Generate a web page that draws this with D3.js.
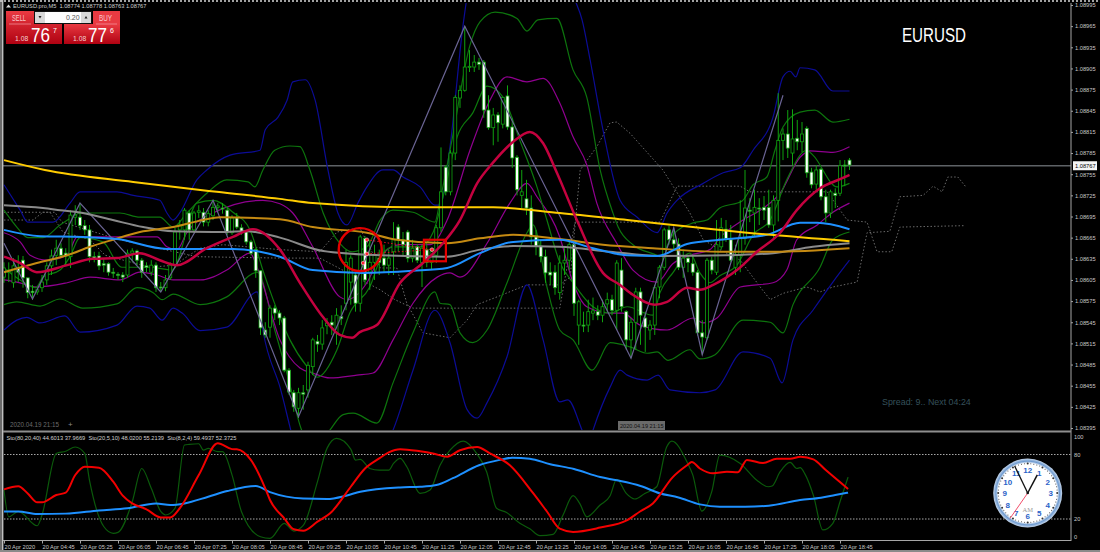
<!DOCTYPE html>
<html>
<head>
<meta charset="utf-8">
<title>EURUSD M5</title>
<script src="https://cdn.jsdelivr.net/npm/d3@7/dist/d3.min.js"></script>
<style>
  html, body { margin: 0; padding: 0; background: #000; overflow: hidden; }
  text { font-family: "Liberation Sans", Arial, sans-serif; }
</style>
</head>
<body>
<script>
// prices are kept in points: 8767 means 1.08767
var opens = [8609,8616,8601,8622,8633,8608,8589,8588,8594,8605,8625,8640,8650,8643,8638,8694,8694,8682,8676,8638,
  8639,8628,8628,8616,8613,8612,8612,8643,8646,8633,8625,8616,8626,8595,8594,8608,8626,8676,8676,8700,
  8676,8701,8701,8687,8696,8708,8707,8704,8672,8693,8679,8673,8659,8648,8618,8534,8538,8565,8558,8551,
  8477,8445,8423,8445,8449,8482,8518,8514,8540,8545,8530,8553,8572,8602,8612,8572,8664,8616,8630,8636,
  8636,8626,8645,8680,8662,8673,8636,8652,8630,8648,8630,8640,8679,8765,8730,8785,8863,8874,8907,8907,
  8914,8914,8846,8821,8839,8826,8866,8822,8779,8725,8720,8707,8666,8653,8638,8616,8616,8587,8629,8633,
  8655,8541,8541,8541,8558,8560,8555,8571,8577,8562,8619,8560,8520,8545,8588,8551,8534,8541,8595,8623,
  8676,8662,8656,8623,8636,8628,8616,8530,8523,8633,8616,8652,8677,8662,8623,8640,8664,8704,8700,8707,
  8708,8708,8683,8718,8803,8812,8785,8806,8801,8820,8758,8741,8762,8723,8700,8728,8728,8768,8775];
var closes = [8622,8619,8625,8616,8608,8587,8587,8591,8602,8625,8639,8650,8640,8639,8697,8697,8682,8676,8638,8636,
  8625,8626,8616,8615,8612,8609,8643,8646,8633,8616,8623,8626,8594,8594,8605,8626,8673,8683,8704,8676,
  8700,8703,8687,8699,8708,8710,8707,8673,8693,8680,8673,8659,8643,8618,8537,8527,8565,8558,8551,8477,
  8446,8425,8445,8443,8484,8520,8514,8537,8544,8541,8555,8550,8630,8636,8572,8666,8605,8630,8640,8630,
  8626,8636,8662,8662,8655,8636,8650,8633,8650,8630,8645,8679,8730,8730,8785,8864,8874,8907,8908,8914,
  8911,8846,8821,8839,8828,8864,8822,8778,8733,8730,8707,8666,8653,8638,8615,8612,8594,8629,8633,8655,
  8572,8574,8540,8560,8561,8555,8567,8577,8562,8629,8567,8520,8545,8588,8555,8538,8541,8594,8623,8676,
  8662,8656,8623,8636,8630,8616,8530,8524,8633,8619,8655,8679,8664,8633,8640,8664,8707,8703,8708,8706,
  8704,8683,8718,8803,8812,8792,8805,8801,8812,8757,8740,8761,8723,8700,8730,8725,8767,8768,8768];
var highs = [8630,8630,8636,8640,8639,8608,8598,8594,8612,8630,8648,8662,8657,8650,8704,8711,8714,8690,8683,8645,
  8645,8636,8630,8622,8616,8616,8648,8650,8648,8636,8630,8633,8630,8602,8612,8630,8679,8690,8707,8704,
  8703,8711,8707,8704,8716,8714,8714,8708,8697,8700,8684,8676,8662,8650,8619,8545,8569,8569,8562,8554,
  8480,8449,8452,8456,8489,8523,8527,8548,8551,8555,8565,8569,8648,8640,8616,8669,8667,8662,8655,8648,
  8655,8648,8687,8684,8673,8676,8662,8656,8655,8655,8650,8683,8793,8768,8789,8867,8881,8965,8931,8924,
  8920,8917,8867,8849,8843,8864,8881,8835,8782,8761,8747,8725,8676,8662,8648,8630,8626,8640,8650,8662,
  8662,8577,8560,8577,8580,8569,8577,8587,8584,8633,8636,8562,8551,8594,8594,8560,8548,8598,8626,8679,
  8682,8679,8664,8648,8640,8640,8619,8548,8636,8638,8690,8693,8690,8683,8655,8718,8761,8721,8733,8721,
  8724,8733,8725,8870,8820,8846,8847,8832,8829,8823,8764,8768,8764,8733,8733,8735,8775,8775,8778];
var lows = [8601,8602,8594,8602,8594,8579,8577,8584,8588,8598,8612,8626,8636,8626,8622,8683,8676,8669,8630,8630,
  8619,8616,8611,8608,8605,8602,8608,8630,8626,8608,8616,8611,8588,8588,8589,8605,8622,8662,8662,8662,
  8672,8693,8681,8681,8690,8701,8699,8669,8669,8677,8669,8655,8640,8608,8527,8523,8523,8548,8541,8474,
  8442,8418,8409,8421,8438,8470,8503,8506,8528,8527,8513,8541,8562,8570,8560,8560,8598,8591,8605,8612,
  8616,8612,8612,8645,8640,8630,8630,8629,8595,8623,8619,8629,8673,8725,8725,8775,8849,8872,8900,8900,
  8903,8835,8818,8796,8801,8820,8818,8764,8725,8707,8697,8655,8640,8630,8601,8598,8584,8577,8612,8619,
  8554,8513,8531,8531,8548,8548,8545,8560,8555,8534,8560,8506,8494,8506,8513,8503,8520,8527,8579,8619,
  8655,8648,8619,8608,8616,8611,8526,8499,8520,8613,8612,8648,8659,8630,8612,8616,8655,8687,8667,8683,
  8690,8679,8662,8688,8775,8778,8768,8789,8786,8750,8735,8733,8718,8687,8693,8707,8724,8738,8761];

// indicator lines as [bar, points]
var navyUpper = [[0,8740],[3.4,8704],[5,8687],[10.3,8687],[13.9,8714],[16,8730],[23.8,8730],[27.2,8725],[32.8,8718],[34.3,8700],[35.6,8690],[37,8700],[40.6,8747],[42.7,8761],[47.6,8782],[53.9,8789],[55,8818],[57.7,8836],[59.6,8860],[60.8,8886],[63.4,8889],[65.5,8860],[68.2,8761],[70.3,8700],[72.2,8683],[74.5,8714],[76.4,8737],[79.8,8761],[81.9,8761],[84,8751],[87.6,8737],[90.7,8711],[91.8,8711],[93.9,8794],[96.6,8964],[98.1,9030],[102.3,9087],[115,9087],[120.2,9002],[121.7,8974],[123.4,8917],[126.1,8818],[129.7,8718],[133.3,8694],[137.5,8672],[139.6,8700],[141.7,8718],[147.2,8742],[151.4,8757],[155,8764],[157.7,8789],[161.9,8836],[164,8893],[165.5,8901],[166.7,8893],[167.6,8906],[170.7,8903],[174.5,8873],[178,8873]];
var navyLower = [[0,8534],[2.7,8548],[4.8,8552],[7.6,8544],[12.8,8554],[16,8531],[23.8,8541],[28,8568],[30.7,8565],[33.3,8548],[35.6,8565],[37.5,8558],[41.3,8533],[46.9,8538],[53.3,8588],[54.5,8534],[58.1,8453],[62.3,8350],[70.7,8293],[77,8336],[81.9,8392],[86.1,8477],[90.7,8562],[93.9,8516],[97.5,8421],[99.6,8409],[101.7,8431],[105.9,8496],[110.1,8598],[113.5,8520],[117,8432],[118.7,8435],[121.7,8392],[123,8371],[124,8392],[127.6,8453],[129.7,8477],[131.2,8470],[135.4,8463],[137.7,8470],[140.2,8449],[146.5,8445],[149.7,8449],[155.6,8503],[161.3,8494],[163.8,8459],[166.1,8520],[170.3,8562],[174.5,8602],[178,8633]];
var greenUpper = [[0,8704],[2.7,8680],[5,8665],[8.2,8665],[11.8,8683],[14.3,8694],[16,8700],[24.4,8700],[28.6,8694],[32.8,8694],[35.6,8680],[38.5,8700],[42.7,8728],[46.9,8747],[51.4,8744],[52.8,8737],[54.5,8761],[57,8789],[60.2,8795],[62.3,8794],[64.4,8761],[67.2,8700],[70.7,8657],[73.3,8645],[76.4,8652],[79.2,8690],[81.9,8704],[86.1,8701],[90.7,8687],[91.8,8718],[94.3,8803],[98.1,8938],[100.2,8971],[103.4,8985],[108,8976],[110.1,8958],[112.4,8974],[116.4,8976],[119.8,8903],[122.7,8864],[125.5,8761],[128.2,8700],[129.3,8680],[132.4,8655],[137.5,8640],[138.1,8638],[140.8,8669],[145.1,8686],[148,8690],[150.7,8707],[155.4,8717],[157.7,8740],[160.6,8751],[162.3,8789],[164,8822],[167.6,8843],[170.7,8846],[174.5,8829],[178,8833]];
var greenLower = [[0,8570],[2.7,8574],[7.6,8568],[11.8,8578],[16.6,8565],[23.8,8571],[28,8594],[31.4,8587],[33.3,8577],[35.6,8585],[41.3,8570],[46.9,8581],[53.3,8616],[57,8534],[60.2,8456],[62.3,8399],[65.5,8364],[68.6,8392],[71.4,8414],[73.5,8416],[78.5,8402],[81.9,8459],[86.1,8530],[90.7,8588],[91.8,8572],[93.9,8570],[96,8530],[98.7,8516],[101.7,8534],[105.9,8601],[110.1,8672],[111.4,8683],[114.3,8595],[117,8534],[119.8,8520],[123.8,8477],[127.6,8516],[131.8,8510],[135.4,8501],[137.5,8503],[139.8,8491],[144.4,8506],[146.5,8493],[149.7,8499],[155.6,8548],[161.3,8545],[164,8530],[166.1,8570],[171.8,8623],[174.5,8662],[178,8673]];
var magentaUpper = [[0,8672],[3.4,8659],[5.5,8640],[9.1,8633],[13.3,8640],[15.4,8666],[22.3,8666],[32.2,8666],[34.3,8652],[36.4,8648],[38.5,8672],[44,8700],[54.5,8718],[58.1,8713],[60.8,8700],[65,8652],[70.7,8581],[72.2,8577],[76.4,8601],[79.2,8638],[83.4,8655],[89.7,8655],[93.3,8690],[98.1,8789],[102.3,8860],[105.9,8893],[110.1,8886],[113.5,8891],[117,8856],[119.8,8808],[122.7,8768],[124.8,8714],[129,8657],[132.4,8619],[137.5,8602],[140.8,8628],[144.4,8640],[148.6,8648],[150.7,8665],[155.6,8690],[159.2,8704],[163.4,8728],[167.6,8779],[169.7,8788],[174.5,8786],[178,8794]];
var magentaLower = [[0,8605],[2.7,8602],[6.9,8595],[13.3,8601],[18.1,8609],[24.4,8605],[28.6,8616],[32.2,8612],[35.6,8605],[41.3,8605],[46.9,8619],[51.8,8643],[53.5,8619],[58.1,8520],[62.3,8480],[65,8473],[68.6,8466],[74.3,8470],[77.7,8473],[81.9,8520],[86.1,8572],[91.2,8609],[93.9,8615],[96,8609],[101.7,8657],[106.5,8714],[110.1,8742],[112.2,8723],[117,8666],[119.8,8601],[122.7,8567],[127.6,8558],[130.3,8558],[133.9,8541],[139.6,8534],[145.1,8551],[147.2,8544],[150.1,8551],[155,8595],[161.9,8601],[164.8,8619],[166.9,8662],[171.2,8683],[174.5,8701],[178,8714]];
var fastGreen = [[0,8622],[3.4,8605],[6.7,8594],[8.2,8609],[11.8,8619],[13.9,8638],[16,8665],[20.8,8659],[24.8,8623],[30.7,8623],[35.4,8619],[40.6,8714],[44,8718],[48.2,8701],[51.8,8676],[54.5,8619],[58.1,8552],[60.2,8520],[63.8,8482],[65.9,8467],[70.1,8506],[72.8,8558],[77,8595],[79.8,8643],[81.9,8652],[87.6,8652],[90.3,8672],[92.8,8733],[95.4,8808],[98.7,8842],[101.7,8880],[105.1,8864],[108.6,8803],[112.2,8737],[114.3,8690],[117,8630],[119.8,8601],[124,8567],[127.6,8558],[131.2,8567],[136.6,8555],[138.1,8587],[140.8,8615],[144.4,8643],[146.5,8615],[148.6,8601],[150.7,8611],[154.3,8626],[157.7,8669],[161.3,8690],[164.8,8747],[169,8789],[170.3,8782],[175.4,8737],[178,8742]];
var crimsonMa = [[0,8638],[3.4,8629],[6.9,8616],[13.3,8626],[18.7,8635],[23.8,8636],[28.6,8643],[32.8,8633],[36.4,8626],[42.7,8650],[48.2,8666],[52.4,8677],[58.1,8648],[62.3,8601],[67.2,8552],[70.7,8527],[73.3,8523],[74.9,8531],[78.5,8541],[83.4,8601],[88.2,8629],[92.4,8657],[96,8690],[99.6,8742],[102.9,8771],[107.2,8801],[110.7,8815],[113.5,8799],[116.4,8757],[120.6,8690],[126.1,8615],[129.7,8598],[132.4,8584],[137,8570],[139.6,8574],[143.8,8594],[146.5,8591],[149.3,8598],[154.3,8619],[158.5,8645],[163.4,8672],[166.9,8704],[171.8,8735],[176,8748],[178,8754]];
var yellowMa = [[0,8775],[8.6,8761],[27.2,8744],[44.8,8730],[58.1,8720],[65,8714],[86.1,8708],[103,8708],[117,8700],[131.2,8690],[145,8680],[156.4,8672],[178,8660]];
var orangeMa = [[0,8616],[6.9,8629],[13.3,8640],[18.1,8652],[22.9,8662],[28.6,8673],[35.6,8680],[41.9,8690],[45.5,8694],[58.1,8691],[65,8680],[76.4,8672],[82.7,8662],[93.3,8657],[100.2,8664],[107.2,8669],[117,8663],[126.1,8655],[136.6,8650],[150.7,8645],[161.9,8645],[178,8650]];
var grayMa = [[0,8711],[8.2,8707],[11.8,8704],[16.6,8700],[22.9,8690],[29.3,8680],[35.6,8674],[44,8673],[51.2,8674],[58.1,8665],[67.2,8646],[79.2,8640],[93.3,8638],[100.2,8648],[107.2,8653],[117,8652],[127.6,8645],[138.1,8639],[152.2,8640],[161.9,8643],[170.3,8652],[178,8657]];
var blueMa = [[0,8676],[7.6,8667],[16.6,8666],[23.8,8663],[34.3,8649],[48.2,8649],[53.9,8645],[58.1,8638],[65,8619],[75.6,8615],[86.1,8618],[93.3,8622],[100.2,8643],[107.2,8659],[117,8662],[124,8650],[131.2,8640],[137.5,8639],[143.8,8656],[150.7,8662],[160.6,8669],[167.6,8686],[171.2,8686],[178,8677]];
var zigzag = [[0,8657],[6,8578],[16,8714],[33,8588],[44,8718],[62,8411],[97,8965],[132,8494],[141,8679],[147,8499],[164,8867]];
var spanA = [[0,8690],[6.1,8690],[8.2,8701],[9.7,8701],[12.4,8673],[18.1,8662],[21.3,8640],[30.7,8623],[36,8626],[38.5,8638],[41.3,8650],[46.1,8655],[58.1,8648],[66.5,8645],[70.1,8673],[74.9,8679],[79.2,8622],[82.7,8622],[84.8,8572],[88.2,8530],[93.9,8523],[97.5,8548],[99.6,8570],[103.8,8581],[110.1,8598],[117,8598],[119.2,8609],[121.3,8761],[124.8,8794],[127.6,8828],[129,8829],[131.8,8813],[138.7,8761],[144.4,8700],[147.2,8662],[150.7,8648],[155,8633],[159.2,8595],[161.3,8577],[164,8586],[169,8595],[171.8,8588],[174.5,8595],[179.6,8602],[181.7,8672],[186.5,8674],[188.6,8723],[193.5,8725],[195.6,8738],[197.5,8730],[198.7,8751],[200.8,8751],[202.5,8737]];
var spanB = [[0,8701],[10.7,8701],[12.2,8687],[24.4,8662],[40.6,8638],[58.1,8636],[66.5,8636],[79.2,8591],[82.3,8577],[86.1,8565],[117,8565],[120.2,8687],[138.1,8687],[141.7,8738],[155,8738],[157,8730],[173.3,8730],[177.5,8690],[181.7,8687],[183.8,8645],[186.9,8645],[188.6,8680],[202.3,8682]];
var tradeMarks = [[76.4,8662],[76.4,8642],[75.6,8629],[90.1,8648]];

// stochastic panel lines as [bar, value]
var stochRed = [[0,47.6],[3,50.4],[5,43.8],[7,35.5],[8,35.5],[11,42.3],[13,44.5],[15,60.9],[17,68.6],[20,67.7],[23,54.7],[25,41.7],[27,34.5],[30,29],[33,21.5],[35,21.5],[37,30],[41,60.9],[45,90.4],[48,85],[49,84.8],[52,74.8],[55,48.5],[56,37.7],[59,20.6],[61,10.4],[63,9.1],[66,17.5],[69,26.8],[73,50],[76,67],[79,76.4],[81,82],[83.4,85],[87.6,83],[90.3,81],[93.3,78],[96,84],[99.6,87],[102.3,81],[106.5,70],[111.4,44],[114.3,27],[117,11],[119.8,8],[125.5,12],[131.2,19],[133.9,27],[136.6,34.5],[140.8,59],[143.8,70],[144.8,73],[146.5,67],[149.3,62.5],[152.2,64],[154.5,63.5],[156.4,75],[159.8,72],[162.7,76],[165.5,76],[167.7,78],[170.4,75.5],[173,65.5],[177.7,48]];
var stochBlue = [[0,27],[3,27],[7,24.6],[13,25],[20,28],[26,30],[32,34.5],[35,33],[38,34.5],[43,40.7],[47,46],[53,50.7],[56,45],[63,39],[68,38.6],[72,41.7],[75,45.4],[83.4,49.4],[87.6,50],[91,51.6],[94.5,58],[100,70],[104.4,75],[107,77],[110.7,76],[115,71],[120,66.5],[125.5,59],[129,56],[134,50.7],[138,44],[142,40],[146.5,33.6],[150.7,31.4],[156,31.4],[161,32.4],[167.6,37.6],[172,39.8],[175,42.3],[177.7,44.5]];
var stochGreen = [[0,47],[1,22],[3,27],[7,13.7],[8,23.7],[11,81],[13,83],[15,87],[17,81],[18,56],[21,13],[23,6.7],[24,7.6],[27,36],[29,67],[31,48.5],[33,27],[34,23.7],[36,30],[38,88.8],[39,89.4],[41,90],[42,84],[43,85.7],[45,82.6],[46,82.6],[48,61],[50,26.8],[54,3.5],[56,2],[59,16],[61,8.8],[63,14],[66,54.7],[68,85.7],[70,95],[73,85],[74,74.8],[75,75.5],[77,67],[79,65.5],[81,65.5],[82,71.7],[83.4,76.4],[84.8,68.6],[87.6,43.8],[89.7,47],[91.8,70],[93.9,84],[96.7,92.5],[99.5,81],[101.6,64],[103.7,30],[105.8,26],[108.6,16],[110.7,11],[112.8,4.5],[115.6,5.7],[117.7,23.7],[119.8,41.7],[121.2,34.5],[122.7,22],[125.5,33],[127.6,41.7],[129,57],[131,43.8],[132.8,38.6],[134.9,43.8],[137.4,50],[139.5,87],[140.6,92.5],[143.8,73],[145,61],[146.9,27.4],[149,45.4],[150.7,79.5],[155,71.7],[158.5,56],[160.9,50],[161.7,50.7],[163.4,64],[165.5,72.7],[166.9,67],[167.6,67.7],[168.6,62],[170.4,42],[172.4,9.8],[174.5,16],[176,36],[177.7,59]];

// axes
var priceTicks = [8995,8965,8935,8905,8875,8845,8815,8785,8755,8725,8695,8665,8635,8605,8575,8545,8515,8485,8455,8425,8395];
var stochTicks = [100,80,20,0];
var stochLevels = [80,20];
var timeBars = [0,8,16,24,32,40,48,56,64,72,80,88,96,104,112,120,128,136,144,152,160,168,176];
var timeLabels = ["20 Apr 2020","20 Apr 04:45","20 Apr 05:25","20 Apr 06:05","20 Apr 06:45","20 Apr 07:25","20 Apr 08:05","20 Apr 08:45","20 Apr 09:25","20 Apr 10:05","20 Apr 10:45","20 Apr 11:25","20 Apr 12:05","20 Apr 12:45","20 Apr 13:25","20 Apr 14:05","20 Apr 14:45","20 Apr 15:25","20 Apr 16:05","20 Apr 16:45","20 Apr 17:25","20 Apr 18:05","20 Apr 18:45"];
var bidPrice = 8767;
var clockNumbers = [12,1,2,3,4,5,6,7,8,9,10,11];
var clockTime = {hour: 12, minute: 55.7, second: 35.8};

var width = 1100, height = 552;
var plotRight = 1071;

var svg = d3.select("body").append("svg")
    .attr("width", width)
    .attr("height", height)
    .style("display", "block");

var defs = svg.append("defs");
defs.append("clipPath").attr("id", "mainClip").append("rect")
    .attr("x", 3).attr("y", 3).attr("width", plotRight - 3).attr("height", 427);
defs.append("clipPath").attr("id", "subClip").append("rect")
    .attr("x", 3).attr("y", 433).attr("width", plotRight - 3).attr("height", 107);
var grad = defs.append("linearGradient").attr("id", "btn").attr("x1", 0).attr("x2", 0).attr("y1", 0).attr("y2", 1);
grad.append("stop").attr("offset", "0%").attr("stop-color", "#ea3a42");
grad.append("stop").attr("offset", "100%").attr("stop-color", "#b00212");
var face = defs.append("radialGradient").attr("id", "clockEdge");
face.append("stop").attr("offset", "86%").attr("stop-color", "#ffffff");
face.append("stop").attr("offset", "92%").attr("stop-color", "#6f9bd0");
face.append("stop").attr("offset", "100%").attr("stop-color", "#c8d8ec");

// scales
var x = d3.scaleLinear().domain([0, 178]).range([4, 849.5]);
var y = d3.scaleLinear().domain([8395, 8995]).range([428, 5]);
var yStoch = d3.scaleLinear().domain([0, 100]).range([540.5, 433]);

function fmtPrice(p) { return (1 + p / 100000).toFixed(5); }

var priceLine = d3.line()
    .x(function(d) { return x(d[0]); })
    .y(function(d) { return y(d[1]); })
    .curve(d3.curveMonotoneX);
var straightLine = d3.line()
    .x(function(d) { return x(d[0]); })
    .y(function(d) { return y(d[1]); });
var stochLine = d3.line()
    .x(function(d) { return x(d[0]); })
    .y(function(d) { return yStoch(d[1]); })
    .curve(d3.curveMonotoneX);

var main = svg.append("g").attr("clip-path", "url(#mainClip)");

// dotted cloud lines go under everything
[spanA, spanB].forEach(function(s) {
  main.append("path").datum(s)
      .attr("d", straightLine)
      .attr("fill", "none").attr("stroke", "#6a6a6a")
      .attr("stroke-width", 1).attr("stroke-dasharray", "1.5,2");
});

// bid line
main.append("line")
    .attr("x1", 3).attr("x2", plotRight)
    .attr("y1", y(bidPrice)).attr("y2", y(bidPrice))
    .attr("stroke", "#5e6266").attr("stroke-width", 1.4);

// thin bands
var thinLines = [
  {d: navyUpper, c: "#0c0c96"}, {d: navyLower, c: "#0c0c96"},
  {d: greenUpper, c: "#0d740d"}, {d: greenLower, c: "#0d740d"},
  {d: magentaUpper, c: "#900090"}, {d: magentaLower, c: "#900090"},
  {d: fastGreen, c: "#0d7a0d"}
];
thinLines.forEach(function(l) {
  main.append("path").datum(l.d).attr("d", priceLine)
      .attr("fill", "none").attr("stroke", l.c).attr("stroke-width", 1.2);
});

// candles
var bars = d3.range(closes.length);
main.selectAll(".wick").data(bars).enter().append("line")
    .attr("class", "wick")
    .attr("x1", function(i) { return x(i); })
    .attr("x2", function(i) { return x(i); })
    .attr("y1", function(i) { return y(highs[i]); })
    .attr("y2", function(i) { return y(lows[i]); })
    .attr("stroke", "#0fa30f").attr("stroke-width", 1);
main.selectAll(".body").data(bars).enter().append("rect")
    .attr("class", "body")
    .attr("x", function(i) { return x(i) - 1.5; })
    .attr("width", 3)
    .attr("y", function(i) { return y(Math.max(opens[i], closes[i])); })
    .attr("height", function(i) { return Math.max(1, Math.abs(y(opens[i]) - y(closes[i]))); })
    .attr("fill", function(i) { return closes[i] > opens[i] ? "#000" : "#fff"; })
    .attr("stroke", "#0fa30f").attr("stroke-width", 0.8);

// zigzag and moving averages on top
main.append("path").datum(zigzag)
    .attr("d", straightLine)
    .attr("fill", "none").attr("stroke", "#6a6494").attr("stroke-width", 1.2);
var thickLines = [
  {d: grayMa, c: "#8a8a8a", w: 2}, {d: orangeMa, c: "#c58a12", w: 2},
  {d: blueMa, c: "#1e90ff", w: 2}, {d: yellowMa, c: "#ffcc00", w: 2},
  {d: crimsonMa, c: "#c4023f", w: 2.5}
];
thickLines.forEach(function(l) {
  main.append("path").datum(l.d).attr("d", priceLine)
      .attr("fill", "none").attr("stroke", l.c).attr("stroke-width", l.w);
});

// trade marks and the red annotations
main.append("path").datum([tradeMarks[0], tradeMarks[3]])
    .attr("d", straightLine)
    .attr("fill", "none").attr("stroke", "#e01020").attr("stroke-dasharray", "1.5,2");
main.append("path").datum([tradeMarks[1], tradeMarks[3]])
    .attr("d", straightLine)
    .attr("fill", "none").attr("stroke", "#e01020").attr("stroke-dasharray", "1.5,2");
main.selectAll(".trade").data(tradeMarks).enter().append("circle")
    .attr("class", "trade")
    .attr("cx", function(d) { return x(d[0]); })
    .attr("cy", function(d) { return y(d[1]); })
    .attr("r", 1.8).attr("fill", "#ff2030").attr("stroke", "#ffd0d0").attr("stroke-width", 0.6);
main.append("circle")
    .attr("cx", x(75)).attr("cy", y(8648)).attr("r", 21.5)
    .attr("fill", "none").attr("stroke", "#e30000").attr("stroke-width", 2.4);
main.append("rect")
    .attr("x", x(88.4)).attr("y", y(8662)).attr("width", 22).attr("height", 21.5)
    .attr("fill", "none").attr("stroke", "#e30000").attr("stroke-width", 2.2);

// stochastic panel
var sub = svg.append("g").attr("clip-path", "url(#subClip)");
sub.selectAll(".level").data(stochLevels).enter().append("line")
    .attr("class", "level")
    .attr("x1", 4).attr("x2", plotRight)
    .attr("y1", function(d) { return yStoch(d); })
    .attr("y2", function(d) { return yStoch(d); })
    .attr("stroke", "#a8a8a8").attr("stroke-width", 1).attr("stroke-dasharray", "1.5,1.5");
sub.append("path").datum(stochGreen).attr("d", stochLine)
    .attr("fill", "none").attr("stroke", "#0b5a0b").attr("stroke-width", 1.2);
sub.append("path").datum(stochBlue).attr("d", stochLine)
    .attr("fill", "none").attr("stroke", "#1e90ff").attr("stroke-width", 2);
sub.append("path").datum(stochRed).attr("d", stochLine)
    .attr("fill", "none").attr("stroke", "#f20000").attr("stroke-width", 2);

// frame
var frame = "#a6a6a6";
svg.append("rect").attr("x", 0).attr("y", 0).attr("width", 2).attr("height", height).attr("fill", "#6a6a6a");
svg.append("rect").attr("x", 2).attr("y", 0).attr("width", 1.4).attr("height", height).attr("fill", "#c0c0c0");
svg.append("line").attr("x1", 0).attr("x2", width).attr("y1", 1).attr("y2", 1)
    .attr("stroke", "#d8d8d8").attr("stroke-width", 1.4).attr("stroke-dasharray", "2,2");
svg.append("line").attr("x1", plotRight).attr("x2", plotRight).attr("y1", 3).attr("y2", 541)
    .attr("stroke", frame);
svg.append("rect").attr("x", 3).attr("y", 430.5).attr("width", plotRight - 3).attr("height", 2).attr("fill", "#8e8e8e");
svg.append("line").attr("x1", 3).attr("x2", plotRight).attr("y1", 540.5).attr("y2", 540.5).attr("stroke", frame);
svg.append("rect").attr("x", 0).attr("y", 550).attr("width", width).attr("height", 2).attr("fill", "#8a8a8a");

// price axis
var axisFont = "5.7px";
var priceAxis = svg.append("g")
    .attr("transform", "translate(" + plotRight + ",0)")
    .call(d3.axisRight(y).tickValues(priceTicks).tickFormat(fmtPrice).tickSize(2).tickPadding(2));
priceAxis.select(".domain").remove();
priceAxis.selectAll("line").attr("stroke", frame);
priceAxis.selectAll("text").attr("fill", "#c8c8c8").style("font-size", axisFont)
    .style("font-family", '"Liberation Sans", Arial, sans-serif');

// current price flag
svg.append("rect").attr("x", 1073).attr("y", y(bidPrice) - 4.5).attr("width", 24).attr("height", 9).attr("fill", "#f4f4f4");
svg.append("text").attr("x", 1075).attr("y", y(bidPrice) + 2.2)
    .attr("fill", "#000").style("font-size", axisFont).text(fmtPrice(bidPrice));

// stochastic axis, 100 and 0 are pushed inside the panel like the terminal does
var stochAxis = svg.append("g")
    .attr("transform", "translate(" + plotRight + ",0)")
    .call(d3.axisRight(yStoch).tickValues(stochTicks).tickFormat(d3.format("d")).tickSize(0).tickPadding(3));
stochAxis.select(".domain").remove();
stochAxis.selectAll("text").attr("fill", "#c8c8c8").style("font-size", axisFont)
    .style("font-family", '"Liberation Sans", Arial, sans-serif')
    .attr("transform", function(d) { return d === 100 ? "translate(0,4)" : d === 0 ? "translate(0,-4)" : null; });

// time axis
var timeAxis = svg.append("g")
    .attr("transform", "translate(0,540.5)")
    .call(d3.axisBottom(x).tickValues(timeBars)
      .tickFormat(function(d, i) { return timeLabels[i]; }).tickSize(3).tickPadding(1));
timeAxis.select(".domain").remove();
timeAxis.selectAll("line").attr("stroke", frame);
timeAxis.selectAll("text").attr("fill", "#c8c8c8").attr("text-anchor", "start")
    .attr("x", 0).style("font-size", axisFont)
    .style("font-family", '"Liberation Sans", Arial, sans-serif');

// labels
function label(tx, ty, s, size, col) {
  return svg.append("text").attr("x", tx).attr("y", ty).attr("fill", col).style("font-size", size + "px").text(s);
}
label(13, 7.8, "EURUSD.pro,M5  1.08774 1.08778 1.08763 1.08767", 5.7, "#d0d0d0").attr("xml:space", "preserve");
svg.append("path").attr("d", "M6 7.5L8.5 4.5L11 7.5Z").attr("fill", "#dddddd");
label(6.5, 440, "Sto(80,20,40) 44.6013 37.9669  Sto(20,5,10) 48.0200 55.2139  Sto(8,2,4) 59.4937 52.3725", 5.7, "#d0d0d0").attr("xml:space", "preserve");
label(902, 42, "EURUSD", 20, "#ffffff").attr("textLength", 64).attr("lengthAdjust", "spacingAndGlyphs");
label(882, 405, "Spread: 9.. Next 04:24", 8.9, "#35505a");
label(10, 427, "2020.04.19 21:15", 6.3, "#6b6b6b");
label(68, 427, "+", 8, "#8a8a8a");
svg.append("rect").attr("x", 618).attr("y", 421).attr("width", 47).attr("height", 9).attr("fill", "#6a6a6a");
label(620, 428, "2020.04.19 21:15", 5.6, "#101010");

// one click trading panel
var panel = svg.append("g");
panel.append("rect").attr("x", 6).attr("y", 11).attr("width", 56).attr("height", 33).attr("fill", "url(#btn)");
panel.append("rect").attr("x", 64).attr("y", 24).attr("width", 56).attr("height", 20).attr("fill", "url(#btn)");
panel.append("rect").attr("x", 93).attr("y", 11).attr("width", 27).attr("height", 14).attr("fill", "#e83a42");
panel.append("rect").attr("x", 34).attr("y", 11).attr("width", 58).attr("height", 13).attr("fill", "#111");
panel.append("rect").attr("x", 35).attr("y", 12).attr("width", 56).attr("height", 11).attr("fill", "#fdfdfd");
panel.append("rect").attr("x", 35).attr("y", 12).attr("width", 10).attr("height", 11).attr("fill", "#d8d8d8");
panel.append("rect").attr("x", 81).attr("y", 12).attr("width", 10).attr("height", 11).attr("fill", "#d8d8d8");
panel.append("path").attr("d", "M38.5 16L41.5 16L40 18.5Z").attr("fill", "#222");
panel.append("path").attr("d", "M84.5 18.5L87.5 18.5L86 16Z").attr("fill", "#222");
panel.append("line").attr("x1", 9).attr("x2", 31).attr("y1", 24).attr("y2", 24).attr("stroke", "#f49aa0").attr("stroke-width", 0.7);
panel.append("line").attr("x1", 96).attr("x2", 117).attr("y1", 24).attr("y2", 24).attr("stroke", "#f49aa0").attr("stroke-width", 0.7);
label(12, 21, "SELL", 8.5, "#f8c8cc").attr("textLength", 14).attr("lengthAdjust", "spacingAndGlyphs");
label(99, 21, "BUY", 8.5, "#f8c8cc").attr("textLength", 13).attr("lengthAdjust", "spacingAndGlyphs");
label(66, 20, "0.20", 7, "#555");
label(15, 40.5, "1.08", 6.8, "#f4d0d0");
label(31, 42, "76", 20, "#ffffff").attr("textLength", 19).attr("lengthAdjust", "spacingAndGlyphs");
label(53, 32.5, "7", 7, "#ffffff");
label(73, 40.5, "1.08", 6.8, "#f4d0d0");
label(88, 42, "77", 20, "#ffffff").attr("textLength", 19).attr("lengthAdjust", "spacingAndGlyphs");
label(110, 32.5, "6", 7, "#ffffff");

// clock
var cx = 1027.7, cy = 493, cr = 34.5;
var clock = svg.append("g").attr("transform", "translate(" + cx + "," + cy + ")");
clock.append("circle").attr("r", cr).attr("fill", "url(#clockEdge)");
clock.selectAll(".min").data(d3.range(60)).enter().append("circle")
    .attr("class", "min")
    .attr("cx", function(d) { return Math.sin(d * Math.PI / 30) * (cr - 5); })
    .attr("cy", function(d) { return -Math.cos(d * Math.PI / 30) * (cr - 5); })
    .attr("r", function(d) { return d % 5 === 0 ? 1 : 0.5; })
    .attr("fill", "#333");
clock.selectAll(".num").data(clockNumbers).enter().append("text")
    .attr("class", "num")
    .attr("x", function(d) { return Math.sin(d * Math.PI / 6) * (cr - 11.5); })
    .attr("y", function(d) { return -Math.cos(d * Math.PI / 6) * (cr - 11.5) + 3; })
    .attr("text-anchor", "middle")
    .attr("fill", "#2a62c8").style("font-size", "8px").style("font-weight", "bold")
    .text(function(d) { return d; });
clock.append("text").attr("y", 19).attr("text-anchor", "middle").attr("fill", "#999")
    .style("font-size", "6.5px").style("font-family", '"Liberation Serif", serif').text("AM");
function hand(turn, len, col, w) {
  var a = turn * 2 * Math.PI;
  clock.append("line").attr("x1", 0).attr("y1", 0)
      .attr("x2", Math.sin(a) * len).attr("y2", -Math.cos(a) * len)
      .attr("stroke", col).attr("stroke-width", w);
}
hand(clockTime.second / 60, 31, "#f03a5a", 0.9);
hand(((clockTime.hour % 12) + clockTime.minute / 60) / 12, 20.5, "#111", 1.5);
hand(clockTime.minute / 60, 30, "#111", 1.3);
clock.append("circle").attr("r", 1.3).attr("fill", "#111");
</script>
</body>
</html>
